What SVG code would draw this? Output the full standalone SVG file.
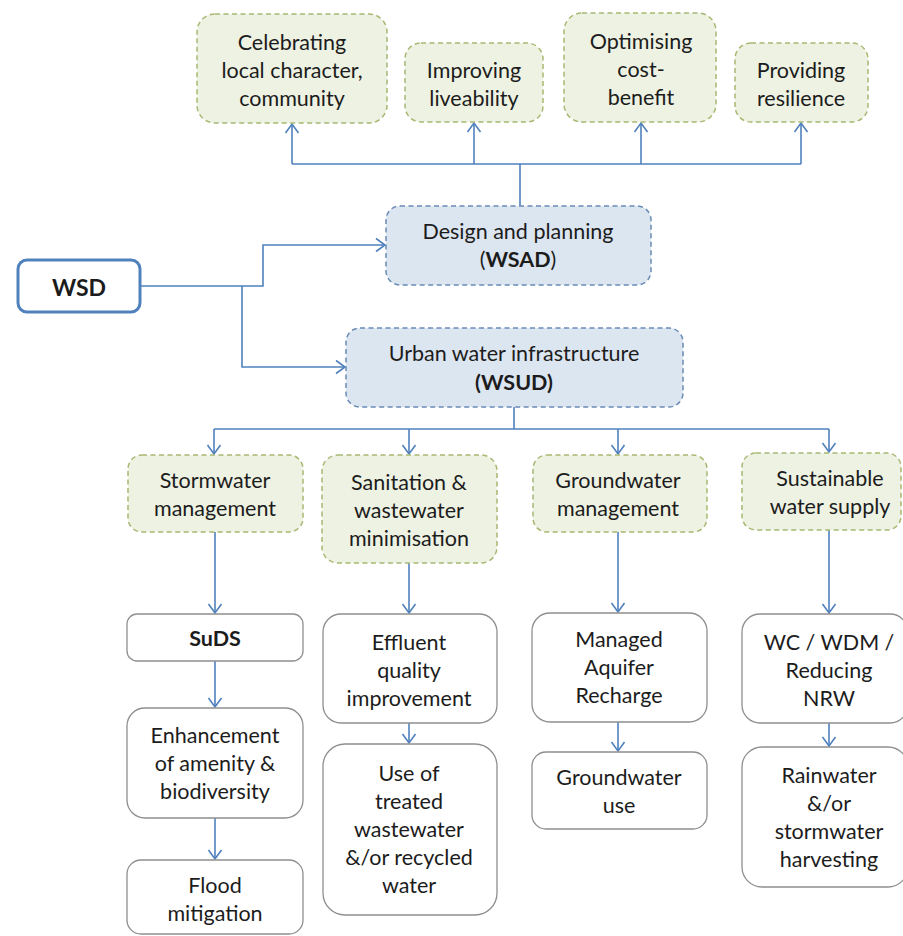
<svg xmlns="http://www.w3.org/2000/svg" width="903" height="936" viewBox="0 0 903 936">
<defs>
<marker id="arr" markerUnits="userSpaceOnUse" viewBox="-11 -8 13 16" refX="0" refY="0" markerWidth="13" markerHeight="16" orient="auto">
<path d="M-9,-6.5 L0,0 L-9,6.5" fill="none" stroke="#4f81bd" stroke-width="1.6"/>
</marker>
</defs>
<style>
text{font-family:Lato,"Liberation Sans",sans-serif;font-size:21.5px;fill:#1c1c1c;text-anchor:middle;dominant-baseline:central}
.b{font-weight:bold}
.g{fill:#eef2e3;stroke:#a8b872;stroke-width:1.5;stroke-dasharray:5 3.5}
.u{fill:#dce6f1;stroke:#6a8bb6;stroke-width:1.5;stroke-dasharray:5 3.5}
.w{fill:#ffffff;stroke:#8f8f8f;stroke-width:1.3}
.c{fill:none;stroke:#4f81bd;stroke-width:1.6}
</style>
<rect width="903" height="936" fill="#ffffff"/>
<g id="connectors">
<path class="c" d="M520,206 V164 M292,164 H801"/>
<path class="c" d="M292,164 V124" marker-end="url(#arr)"/>
<path class="c" d="M474,164 V123" marker-end="url(#arr)"/>
<path class="c" d="M641,164 V123" marker-end="url(#arr)"/>
<path class="c" d="M801,164 V123" marker-end="url(#arr)"/>
<path class="c" d="M141,286 H263 V245 H385" marker-end="url(#arr)"/>
<path class="c" d="M242,286 V367 H345" marker-end="url(#arr)"/>
<path class="c" d="M514,407 V429 M214,429 H829"/>
<path class="c" d="M214,429 V454" marker-end="url(#arr)"/>
<path class="c" d="M409,429 V454" marker-end="url(#arr)"/>
<path class="c" d="M618,429 V454" marker-end="url(#arr)"/>
<path class="c" d="M829,429 V452" marker-end="url(#arr)"/>
<path class="c" d="M215,532 V613" marker-end="url(#arr)"/>
<path class="c" d="M215,661 V707" marker-end="url(#arr)"/>
<path class="c" d="M215,818 V859" marker-end="url(#arr)"/>
<path class="c" d="M409,563 V613" marker-end="url(#arr)"/>
<path class="c" d="M409,723 V743" marker-end="url(#arr)"/>
<path class="c" d="M618,532 V612" marker-end="url(#arr)"/>
<path class="c" d="M618,722 V751" marker-end="url(#arr)"/>
<path class="c" d="M829,530 V613" marker-end="url(#arr)"/>
<path class="c" d="M829,723 V746" marker-end="url(#arr)"/>
</g>
<g id="celebrating"><rect class="g" x="197" y="14" width="190" height="109" rx="18"/><text x="292" y="42">Celebrating</text><text x="292" y="70">local character,</text><text x="292" y="98">community</text></g>
<g id="improving"><rect class="g" x="405" y="43" width="138" height="79" rx="16"/><text x="474" y="70">Improving</text><text x="474" y="98">liveability</text></g>
<g id="optimising"><rect class="g" x="564" y="13" width="152" height="109" rx="18"/><text x="641" y="41">Optimising</text><text x="641" y="69">cost-</text><text x="641" y="97">benefit</text></g>
<g id="resilience"><rect class="g" x="735" y="43" width="133" height="79" rx="16"/><text x="801" y="70">Providing</text><text x="801" y="98">resilience</text></g>
<g id="wsd"><rect x="18" y="260" width="122" height="52" rx="9" fill="#ffffff" stroke="#4f81bd" stroke-width="3"/><text class="b" x="79" y="287" style="font-size:23px">WSD</text></g>
<g id="wsad"><rect class="u" x="386" y="206" width="265" height="79" rx="14"/><text x="518" y="231">Design and planning</text><text x="518" y="259">(<tspan class="b">WSAD</tspan>)</text></g>
<g id="wsud"><rect class="u" x="346" y="328" width="337" height="79" rx="14"/><text x="514" y="353">Urban water infrastructure</text><text x="514" y="382" class="b">(WSUD)</text></g>
<g id="stormwater"><rect class="g" x="128" y="455" width="175" height="77" rx="14"/><text x="215" y="480">Stormwater</text><text x="215" y="508">management</text></g>
<g id="sanitation"><rect class="g" x="322" y="455" width="175" height="108" rx="16"/><text x="409" y="482">Sanitation &amp;</text><text x="409" y="510">wastewater</text><text x="409" y="538">minimisation</text></g>
<g id="groundwater"><rect class="g" x="533" y="455" width="174" height="77" rx="14"/><text x="618" y="480">Groundwater</text><text x="618" y="508">management</text></g>
<g id="supply"><rect class="g" x="742" y="453" width="159" height="77" rx="14"/><text x="830" y="478">Sustainable</text><text x="830" y="506">water supply</text></g>
<g id="suds"><rect class="w" x="127" y="614" width="176" height="47" rx="10"/><text class="b" x="215" y="638">SuDS</text></g>
<g id="enhancement"><rect class="w" x="127" y="708" width="176" height="110" rx="18"/><text x="215" y="735">Enhancement</text><text x="215" y="763">of amenity &amp;</text><text x="215" y="791">biodiversity</text></g>
<g id="flood"><rect class="w" x="127" y="860" width="176" height="74" rx="14"/><text x="215" y="885">Flood</text><text x="215" y="913">mitigation</text></g>
<g id="effluent"><rect class="w" x="323" y="614" width="174" height="109" rx="18"/><text x="409" y="642">Effluent</text><text x="409" y="670">quality</text><text x="409" y="698">improvement</text></g>
<g id="reuse"><rect class="w" x="323" y="744" width="174" height="171" rx="22"/><text x="409" y="773">Use of</text><text x="409" y="801">treated</text><text x="409" y="829">wastewater</text><text x="409" y="857">&amp;/or recycled</text><text x="409" y="885">water</text></g>
<g id="mar"><rect class="w" x="532" y="613" width="175" height="109" rx="18"/><text x="619" y="639">Managed</text><text x="619" y="667">Aquifer</text><text x="619" y="695">Recharge</text></g>
<g id="gwuse"><rect class="w" x="532" y="752" width="175" height="77" rx="14"/><text x="619" y="777">Groundwater</text><text x="619" y="805">use</text></g>
<g id="wc"><rect class="w" x="742" y="614" width="166" height="109" rx="18"/><text x="829" y="642">WC / WDM /</text><text x="829" y="670">Reducing</text><text x="829" y="698">NRW</text></g>
<g id="rainwater"><rect class="w" x="742" y="747" width="166" height="140" rx="20"/><text x="829" y="775">Rainwater</text><text x="829" y="803">&amp;/or</text><text x="829" y="831">stormwater</text><text x="829" y="859">harvesting</text></g>
</svg>
